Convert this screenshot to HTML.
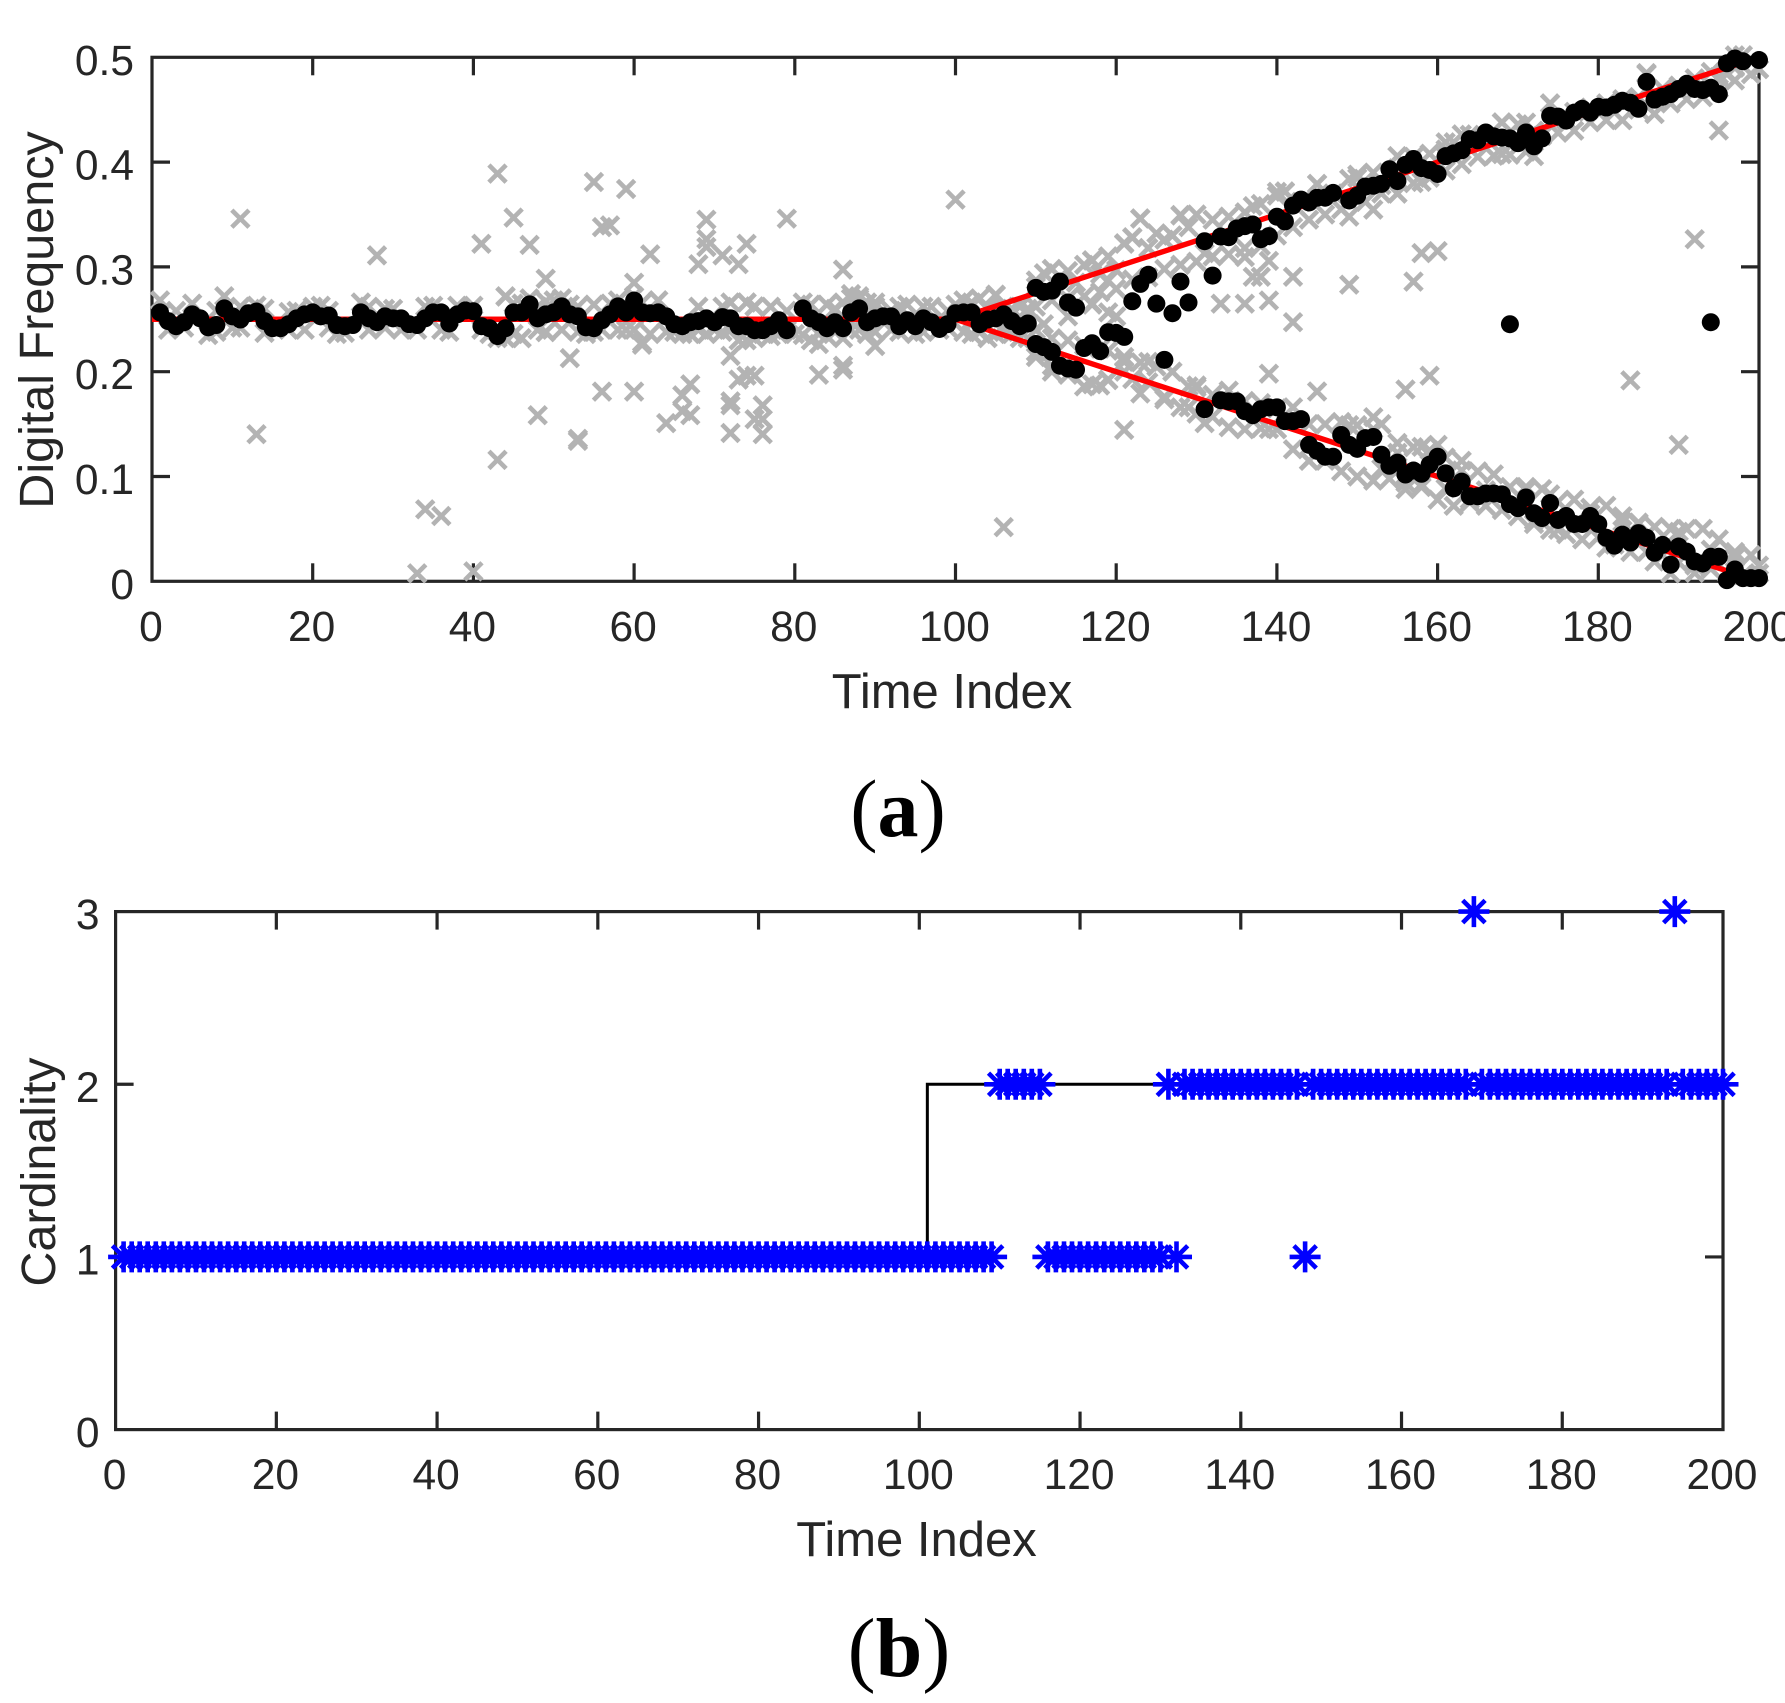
<!DOCTYPE html>
<html lang="en">
<head>
<meta charset="utf-8">
<title>Digital frequency and cardinality over time</title>
<style>
  html, body { margin: 0; padding: 0; background: #fff; }
  #figure { display: block; width: 1785px; height: 1703px; }
  text { font-family: "Liberation Sans", sans-serif; fill: #262626; }
  .caption { font-family: "Liberation Serif", serif; fill: #000; }
</style>
</head>
<body>
<svg id="figure" xmlns="http://www.w3.org/2000/svg" width="1785" height="1703" viewBox="0 0 1785 1703">
  <rect width="1785" height="1703" fill="#fff"/>
  <g id="panel-a"></g>
  <g id="panel-b"></g>
  <text transform="translate(53 320) rotate(-90)" text-anchor="middle" font-size="48.5">Digital Frequency</text>
  <text x="952" y="708" text-anchor="middle" font-size="49">Time Index</text>
  <text class="caption" x="898" y="836" text-anchor="middle" font-size="82">(<tspan font-weight="bold">a</tspan>)</text>
  <text transform="translate(55 1172) rotate(-90)" text-anchor="middle" font-size="48.5">Cardinality</text>
  <text x="916.5" y="1556" text-anchor="middle" font-size="49">Time Index</text>
  <text class="caption" x="899" y="1676" text-anchor="middle" font-size="84">(<tspan font-weight="bold">b</tspan>)</text>
</svg>
<script>
// ---------- Panel (a) data ----------
const freqXTicks = [0,20,40,60,80,100,120,140,160,180,200];
const freqYTicks = [0,0.1,0.2,0.3,0.4,0.5];
const freqYLabels = ["0","0.1","0.2","0.3","0.4","0.5"];

// true frequency tracks (red)
const trueTimes = [0,100,200];
const trueUpper = [0.25,0.25,0.5];
const trueLower = [0.25,0.25,0];

// estimates (black): merged track for t = 1..109 (null = no estimate)
const mergedEstimate = [
.2566,.2483,.2434,.2472,.2547,.2509,.2423,.2445,.2604,.2528,
.2498,.2558,.2574,.2483,.2415,.2415,.2453,.2509,.2547,.2566,
.2528,.2536,.2445,.2434,.2445,.2566,.2509,.2472,.2528,.2509,
.2509,.2453,.2445,.2509,.2566,.2566,.2460,.2547,.2585,.2577,
.2434,.2415,.234,.2415,.2566,.2566,.2642,.2509,.2547,.2566,
.2623,.2547,.2528,.2423,.2415,.2491,.2547,.2623,.2566,.2679,
.2566,.2558,.2566,.2528,.2453,.2434,.2472,.2483,.2509,.2472,
.2521,.2509,.2434,.2434,.2396,.2396,.2434,.2491,.2396,null,
.2604,.2509,.2472,.2415,.2472,.2415,.2566,.2604,.2472,.2509,
.2528,.2528,.2434,.2491,.2434,.2509,.2472,.2408,.2453,.2558,
.2566,.2566,.2453,.2498,.2509,.2547,.2483,.2434,.246];

// upper estimate times and values
const upperTimes = [110,111,112,113,114,115,131,133,134,135,136,137,138,139,140,141,142,143,144,145,146,147,149,150,151,152,153,154,155,156,157,158,159,160,161,162,163,164,165,166,167,168,169,170,171,172,173,174,175,176,177,178,179,180,181,182,183,184,185,186,187,188,189,190,191,192,193,194,195,196,197,198,200];
const upperEstimate = [.28,.2762,.2774,.286,.266,.2611,.3245,.329,.3283,.3366,.3389,.3404,.3264,.3294,.3479,.3434,.3585,.3642,.3615,.366,.366,.3706,.3634,.3679,.3766,.3774,.3792,.3932,.3819,.3974,.403,.3943,.3925,.3887,.4057,.4083,.4113,.4219,.4208,.4283,.4245,.4234,.4226,.4181,.4283,.4151,.4226,.4442,.4434,.4396,.4472,.4509,.4472,.4528,.4521,.4547,.4585,.4566,.4509,.4766,.4596,.4623,.4649,.4698,.4747,.4698,.4687,.4709,.4649,.4943,.4989,.4962,.4974];

// lower estimate times and values
const lowerTimes = [110,111,112,113,114,115,131,133,134,135,136,137,138,139,140,141,142,143,144,145,146,147,148,149,150,151,152,153,154,155,156,157,158,159,160,161,162,163,164,165,166,167,168,169,170,171,172,173,174,175,176,177,178,179,180,181,182,183,184,185,186,187,188,189,190,191,192,193,194,195,196,197,198,199,200];
const lowerEstimate = [.2264,.2234,.2189,.2057,.203,.2019,.1642,.1728,.1717,.1717,.1623,.1585,.1642,.166,.166,.1528,.1528,.1547,.1302,.1245,.1189,.1189,.1396,.1302,.1264,.1366,.1377,.1208,.1102,.1132,.1019,.1057,.1026,.1113,.1189,.103,.0887,.0951,.0811,.0811,.0838,.0838,.083,.0736,.0698,.08,.0649,.0604,.0747,.0585,.0623,.0547,.0547,.0623,.0547,.0415,.034,.0445,.037,.046,.0415,.0272,.0347,.0158,.0332,.0283,.0189,.017,.0234,.0234,.0011,.0113,.003,.003,.003];

// isolated estimates between the tracks
const strayEstimateTimes = [116,117,118,119,120,121,122,123,124,125,126,127,128,129,132,169,194];
const strayEstimateValues = [.2226,.2272,.2196,.2377,.237,.2332,.2672,.2838,.2925,.2649,.2113,.2558,.286,.266,.2917,.2453,.2472];

// raw measurements (grey crosses) hugging the merged track, t = 1..109
const flatHigh = [
.268,null,.258,null,.265,null,null,.258,.272,null,
.262,null,.263,.26,null,null,.257,.258,null,.262,
.263,.258,null,null,null,.266,.262,null,.26,.26,
null,null,null,.262,.263,null,null,.263,null,.263,
null,null,null,.272,.265,.265,.27,.262,.267,.268,
.27,.264,.262,null,.264,null,.265,.268,null,.272,
.266,null,.268,null,null,null,null,.262,null,null,
.262,.266,null,.266,.262,null,.262,null,.258,null,
.266,.264,null,.264,.26,.266,.274,.272,.266,.262,
null,.258,.262,.264,null,.262,.262,null,.258,.264,
.268,.266,.27,.26,.273,.262,.26,.262,.26];
const flatLow = [
null,.24,null,.242,null,null,.235,.238,null,.242,
.242,null,null,.237,null,null,.24,null,.24,null,
null,.242,.236,.237,null,null,.24,null,.242,null,
.24,null,.24,null,null,.24,.238,null,null,null,
.24,.236,.232,.232,.236,.232,null,.24,.238,null,
.24,null,.238,.236,.238,.24,null,.24,.24,.24,
null,.236,null,.238,.238,.236,.236,.24,.236,.24,
.238,.24,.23,.23,.232,.236,.234,.236,.24,.236,
.235,.23,.236,.234,.238,.232,.24,.24,.236,.238,
null,.24,.238,null,.236,.238,null,.24,.242,null,
.238,.236,.238,.232,.236,.238,.236,.232,.232];

// raw measurements around the diverging tracks, t = 110..200 (null = hidden / absent)
const upperBandHigh = [.287,.294,.298,.29,.296,.285,.302,.306,.293,.31,.297,.322,.328,.346,.318,.332,.326,.33,.349,.338,.35,
null,.345,null,.348,null,.352,.358,.36,null,.368,.372,null,.362,null,.379,null,.37,null,.384,.388,null,.39,.378,null,.394,null,.405,null,.408,null,.412,.419,null,.426,null,.424,null,.438,null,.436,null,.43,null,.456,null,.44,.448,null,.452,null,.456,null,.46,null,.462,.484,null,.47,null,.473,null,.48,null,.486,null,.484,.49,.502,null,.489];
const upperBandLow = [.262,null,.268,null,.27,null,.272,.265,.276,null,.279,null,.288,null,.29,null,.298,null,.302,null,.305,
null,.31,null,.312,null,.318,null,.32,null,.33,null,.338,null,.345,null,.35,null,.355,.348,null,.362,null,.37,null,.37,null,.38,null,.385,null,.392,null,.398,null,.405,null,.406,null,.407,null,.41,null,.425,null,.428,null,.43,null,.438,null,.44,null,.44,null,.45,null,.446,null,.456,null,.46,null,.462,null,.47,null,.478,null,.484,null];
const lowerBandHigh = [.24,null,.232,null,.23,null,.225,null,.222,.22,null,.214,null,.209,null,.205,null,.2,null,.186,null,
null,.178,null,.182,null,.172,null,.17,null,.165,null,.166,null,.15,null,.15,null,.152,null,.149,null,.145,.15,null,.132,null,.128,null,.125,null,.118,null,.115,null,.105,null,.102,null,.09,null,.09,null,.088,null,.076,null,.078,null,.07,null,.072,null,.062,null,.056,null,.052,null,.05,null,.05,null,.05,null,.04,null,.028,null,.025,.015];
const lowerBandLow = [.214,null,.2,null,.197,null,.186,.188,null,.192,null,.2,.193,null,.19,null,.176,null,.166,null,.16,
null,.157,null,.147,null,.145,null,.146,null,.145,null,.126,null,.115,null,.115,null,.105,null,.1,null,.096,null,.098,null,.088,null,.09,null,.078,null,.072,null,.078,null,.072,null,.068,null,.062,null,.058,null,.049,null,.045,null,.04,null,.042,null,.035,null,.028,null,.028,null,.025,null,.018,null,.008,null,.012,null,.008,null,.006,null,.0075];

// outlying raw measurements (grey crosses)
const outlierTimes = [
11,13,28,33,34,36,40,43,43,41,
45,47,49,48,52,53,53,55,56,56,
46,49,44,59,57,61,61,60,60,62,
63,69,69,69,68,71,74,73,64,67,
66,66,67,72,73,74,75,72,72,72,
76,75,76,76,74,75,79,86,83,90,
83,86,86,100,106,121,105,112,117,123,
128,122,121,127,128,110,119,117,120,119,
111,114,110,112,118,119,121,123,124,127,
126,129,130,87,88,90,103,131,136,139,
137,138,142,133,136,139,142,149,157,158,
160,192,139,145,156,159,184,190,195,130,
152,149,144,131,139,140,140,141,145,152,
155,158,150,155,161,168,168,172,171,174,
186,187,163,195,197,200,158,163,164,158,
160,172,171,174,175,179,183,185,181,190,
187,189,194,197,200,192,166,161,153,155,
156];
const outlierValues = [
.346,.1404,.311,.0075,.0687,.0623,.0094,.389,.1158,.322,
.347,.321,.2887,.1585,.213,.134,.136,.381,.338,.181,
.232,.2377,.2717,.3743,.3396,.2257,.228,.181,.2849,.312,
.268,.345,.3264,.319,.3026,.311,.322,.3026,.151,.188,
.1774,.1623,.1585,.2151,.1925,.1962,.1962,.1679,.1717,.1415,
.1679,.1547,.1547,.1404,.266,.2623,.346,.2974,.2264,.2245,
.197,.2057,.2019,.3642,.0517,.1445,.2736,.298,.3064,.3464,
.3495,.3283,.3226,.33,.302,.281,.287,.264,.2528,.2566,
.2453,.2528,.2189,.2057,.1868,.1925,.2094,.1792,.2094,.2,
.1736,.166,.1849,.27,.27,.266,.2377,.3132,.3094,.3057,
.2906,.2906,.2906,.2649,.2649,.2679,.2472,.283,.286,.3132,
.3151,.3264,.1981,.1811,.183,.1962,.1917,.1302,.4302,.1868,
.1566,.149,.1151,.1509,.1453,.1453,.3717,.3717,.3792,.3547,
.3698,.3811,.3849,.4057,.4189,.4377,.4075,.4057,.4377,.4558,
.4849,.446,.4264,.4811,.5019,.4887,.0925,.1057,.0755,.1283,
.1302,.0547,.0868,.083,.0491,.0642,.0566,.0547,.0321,.0472,
.0189,.0075,.0302,.0226,.0075,.0151,.0868,.0887,.1075,.1226,
.0943];

// ---------- Panel (b) data ----------
const cardXTicks = [0,20,40,60,80,100,120,140,160,180,200];
const cardYTicks = [0,1,2,3];
const stepTimes = [0,101,101,200];
const stepValues = [1,1,2,2];
const estimatedCardinality = [
1,1,1,1,1,1,1,1,1,1,1,1,1,1,1,1,1,1,1,1,
1,1,1,1,1,1,1,1,1,1,1,1,1,1,1,1,1,1,1,1,
1,1,1,1,1,1,1,1,1,1,1,1,1,1,1,1,1,1,1,1,
1,1,1,1,1,1,1,1,1,1,1,1,1,1,1,1,1,1,1,1,
1,1,1,1,1,1,1,1,1,1,1,1,1,1,1,1,1,1,1,1,
1,1,1,1,1,1,1,1,1,2,2,2,2,2,2,1,1,1,1,1,
1,1,1,1,1,1,1,1,1,1,2,1,2,2,2,2,2,2,2,2,
2,2,2,2,2,2,2,1,2,2,2,2,2,2,2,2,2,2,2,2,
2,2,2,2,2,2,2,2,3,2,2,2,2,2,2,2,2,2,2,2,
2,2,2,2,2,2,2,2,2,2,2,2,2,3,2,2,2,2,2,2];

// ---------- Axis functions ----------
const SVG_NS = "http://www.w3.org/2000/svg";
const panelA = document.getElementById("panel-a");
const panelB = document.getElementById("panel-b");
const AXIS_COLOR = "#262626";
const boxA = { left: 152, right: 1759, top: 57.3, bottom: 581.3, yMax: 0.5 };
const boxB = { left: 115.6, right: 1723, top: 911.6, bottom: 1429.6, yMax: 3 };
const xA = t => boxA.left + (boxA.right - boxA.left) * t / 200;
const yA = v => boxA.bottom - (boxA.bottom - boxA.top) * v / boxA.yMax;
const xB = t => boxB.left + (boxB.right - boxB.left) * t / 200;
const yB = v => boxB.bottom - (boxB.bottom - boxB.top) * v / boxB.yMax;

function make(tag, parent, attrs) {
  const el = document.createElementNS(SVG_NS, tag);
  for (const k in attrs) el.setAttribute(k, attrs[k]);
  parent.appendChild(el);
  return el;
}

function drawAxes(parent, box, xFn, yFn, xTicks, yTicks, yLabels, yLabelRight) {
  const TICK = 18;
  const frame = make("rect", parent, { x: box.left, y: box.top, width: box.right - box.left, height: box.bottom - box.top, fill: "none", stroke: AXIS_COLOR, "stroke-width": 3.2 });
  
  
  xTicks.forEach((t) => {
    if (t > 0 && t < 200) {
      const up = make("line", parent, { x1: xFn(t), x2: xFn(t), y1: box.bottom, y2: box.bottom - TICK, stroke: AXIS_COLOR, "stroke-width": 3.2 });
      
      
      const down = make("line", parent, { x1: xFn(t), x2: xFn(t), y1: box.top, y2: box.top + TICK, stroke: AXIS_COLOR, "stroke-width": 3.2 });
      
      
    }
    const label = make("text", parent, { x: xFn(t) - 1, y: box.bottom + 59.5, "text-anchor": "middle", "font-size": 42.5 });
    
    
    label.textContent = String(t);
  });
  yTicks.forEach((v, i) => {
    if (i > 0 && i < yTicks.length - 1) {
      const l = make("line", parent, { x1: box.left, x2: box.left + TICK, y1: yFn(v), y2: yFn(v), stroke: AXIS_COLOR, "stroke-width": 3.2 });
      
      
      const r = make("line", parent, { x1: box.right, x2: box.right - TICK, y1: yFn(v), y2: yFn(v), stroke: AXIS_COLOR, "stroke-width": 3.2 });
      
      
    }
    const label = make("text", parent, { x: yLabelRight, y: yFn(v) + 17.5, "text-anchor": "end", "font-size": 42.5 });
    
    
    label.textContent = yLabels[i];
  });
}

function polyline(parent, times, values, xFn, yFn, color, width) {
  const pts = times.map((t, i) => xFn(t).toFixed(2) + "," + yFn(values[i]).toFixed(2)).join(" ");
  return make("polyline", parent, { points: pts, fill: "none", stroke: color, "stroke-width": width });
}

// ---------- Panel (a) marks ----------
function cross(parent, t, v) {
  if (v === null) return;
  const x = xA(t), y = yA(v), a = 8.6;
  const d = `M${(x-a).toFixed(1)} ${(y-a).toFixed(1)}L${(x+a).toFixed(1)} ${(y+a).toFixed(1)}M${(x-a).toFixed(1)} ${(y+a).toFixed(1)}L${(x+a).toFixed(1)} ${(y-a).toFixed(1)}`;
  const el = make("path", parent, { d: d, fill: "none", stroke: "#b3b3b3", "stroke-width": 4.6 });
  
  
}
function dot(parent, t, v) {
  const el = make("circle", parent, { cx: xA(t).toFixed(2), cy: yA(v).toFixed(2), r: 9, fill: "#000" });
  
  
}

drawAxes(panelA, boxA, xA, yA, freqXTicks, freqYTicks, freqYLabels, 134);

const crossLayer = make("g", panelA, {});


flatHigh.forEach((v, i) => cross(crossLayer, i + 1, v));
flatLow.forEach((v, i) => cross(crossLayer, i + 1, v));
upperBandHigh.forEach((v, i) => cross(crossLayer, i + 110, v));
upperBandLow.forEach((v, i) => cross(crossLayer, i + 110, v));
lowerBandHigh.forEach((v, i) => cross(crossLayer, i + 110, v));
lowerBandLow.forEach((v, i) => cross(crossLayer, i + 110, v));
outlierValues.forEach((v, i) => cross(crossLayer, outlierTimes[i], v));

const upperLine = polyline(panelA, trueTimes, trueUpper, xA, yA, "#ff0000", 5.4);


const lowerLine = polyline(panelA, trueTimes, trueLower, xA, yA, "#ff0000", 5.4);



const dotLayer = make("g", panelA, {});


mergedEstimate.forEach((v, i) => { if (v !== null) dot(dotLayer, i + 1, v); });
upperEstimate.forEach((v, i) => dot(dotLayer, upperTimes[i], v));
lowerEstimate.forEach((v, i) => dot(dotLayer, lowerTimes[i], v));
strayEstimateValues.forEach((v, i) => dot(dotLayer, strayEstimateTimes[i], v));

// ---------- Panel (b) marks ----------
drawAxes(panelB, boxB, xB, yB, cardXTicks, cardYTicks, cardYTicks.map(String), 99.5);

const stepLine = polyline(panelB, stepTimes, stepValues, xB, yB, "#000", 3);



const starLayer = make("g", panelB, {});


estimatedCardinality.forEach((c, i) => {
  const x = xB(i + 1), y = yB(c), r = 15.5, q = 11.2;
  const d = `M${(x-r).toFixed(1)} ${y.toFixed(1)}H${(x+r).toFixed(1)}M${x.toFixed(1)} ${(y-r).toFixed(1)}V${(y+r).toFixed(1)}M${(x-q).toFixed(1)} ${(y-q).toFixed(1)}L${(x+q).toFixed(1)} ${(y+q).toFixed(1)}M${(x-q).toFixed(1)} ${(y+q).toFixed(1)}L${(x+q).toFixed(1)} ${(y-q).toFixed(1)}`;
  const star = make("path", starLayer, { d: d, fill: "none", stroke: "#0000ff", "stroke-width": 4.6 });
  
  
});
</script>
</body>
</html>
